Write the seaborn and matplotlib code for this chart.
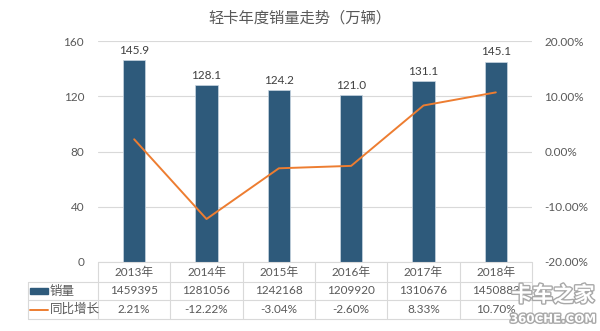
import numpy as np
import pandas as pd
import matplotlib
matplotlib.use("Agg")
import matplotlib.pyplot as plt
import matplotlib.patheffects as pe
from matplotlib.transforms import blended_transform_factory
import seaborn as sns

# Light-truck annual sales (10k units) and year-on-year growth
years = ["2013年", "2014年", "2015年", "2016年", "2017年", "2018年"]
sales_wan = [145.9, 128.1, 124.2, 121.0, 131.1, 145.1]
sales_units = ["1459395", "1281056", "1242168", "1209920", "1310676", "1450883"]
growth_pct = [2.21, -12.22, -3.04, -2.60, 8.33, 10.70]
growth_labels = ["2.21%", "-12.22%", "-3.04%", "-2.60%", "8.33%", "10.70%"]
left_ticks = [0, 40, 80, 120, 160]
right_ticks = [-20, -10, 0, 10, 20]

BAR = "#2E5A7B"
LINE = "#ED7D31"
TXT = "#595959"
GRID = "#D9D9D9"
FONT = ["Lato", "Noto Sans CJK SC", "DejaVu Sans"]

sns.set_theme(style="white")
plt.rcParams["font.family"] = FONT

W, H = 600, 331
fig = plt.figure(figsize=(W / 100, H / 100), dpi=100)
ax = fig.add_axes([98 / W, 1 - 262 / H, (532 - 98) / W, (262 - 41) / H])

df = pd.DataFrame({"year": years, "sales": sales_wan, "growth": growth_pct})
df["pos"] = np.arange(len(df))

sns.barplot(data=df, x="year", y="sales", color=BAR, width=0.31, errorbar=None,
            saturation=1, edgecolor="#C9D6E2", linewidth=0.5, ax=ax, zorder=2)
ax.set_ylim(0, 160)
ax.set_xlim(-0.5, len(years) - 0.5)
ax.set_yticks(left_ticks)
ax.set_yticklabels([str(t) for t in left_ticks])
ax.set_xticks([])
ax.set_xlabel("")
ax.set_ylabel("")
ax.xaxis.grid(False)
ax.yaxis.grid(True, color=GRID, linewidth=0.8, zorder=0)
ax.set_axisbelow(True)
ax.tick_params(axis="x", bottom=False, labelbottom=False)
ax.tick_params(axis="y", length=0, pad=10, labelsize=8.5, labelcolor=TXT)

for i, v in enumerate(sales_wan):
    ax.text(i, v + 3, f"{v:.1f}", ha="center", va="bottom",
            fontsize=8.5, color="#404040")

ax2 = ax.twinx()
sns.lineplot(data=df, x="pos", y="growth", color=LINE, linewidth=1.4,
             ax=ax2, zorder=3)
ax2.set_ylim(-20, 20)
ax2.set_xlim(-0.5, len(years) - 0.5)
ax2.set_yticks(right_ticks)
ax2.set_yticklabels([f"{t:.2f}%" for t in right_ticks])
ax2.set_xlabel("")
ax2.set_ylabel("")
ax2.grid(False)
ax2.tick_params(axis="x", bottom=False, labelbottom=False)
ax2.tick_params(axis="y", length=0, pad=9, labelsize=8.5, labelcolor=TXT)

for a in (ax, ax2):
    for s in a.spines.values():
        s.set_visible(False)
    a.patch.set_visible(False)

# Title
fig.text(0.5, 1 - 18 / H, "轻卡年度销量走势（万辆）", ha="center", va="center",
         fontsize=11, color=TXT, family=["Noto Sans CJK SC"])

# Data table beneath the plot
tr = blended_transform_factory(ax.transData, ax.transAxes)
ph = 262 - 41
def ya(py):
    return (262 - py) / ph

y_top, y_r1, y_r2, y_bot = ya(262), ya(282), ya(300), ya(319)
unit = (532 - 98) / 6
def xd(px):
    return -0.5 + (px - 98) / unit

x_left = xd(28)
n = len(years)
line_kw = dict(color=GRID, linewidth=0.8, transform=tr, clip_on=False)
ax.plot([-0.5, n - 0.5], [y_top, y_top], **line_kw)
for yy in (y_r1, y_r2, y_bot):
    ax.plot([x_left, n - 0.5], [yy, yy], **line_kw)
for k in range(n + 1):
    ax.plot([k - 0.5, k - 0.5], [y_top, y_bot], **line_kw)
ax.plot([x_left, x_left], [y_r1, y_bot], **line_kw)

yc0 = (y_top + y_r1) / 2
yc1 = (y_r1 + y_r2) / 2
yc2 = (y_r2 + y_bot) / 2
for i in range(n):
    ax.text(i, yc0, years[i], transform=tr, ha="center", va="center",
            fontsize=8.5, color=TXT, clip_on=False)
    ax.text(i, yc1, sales_units[i], transform=tr, ha="center", va="center",
            fontsize=8.5, color=TXT, clip_on=False)
    ax.text(i, yc2, growth_labels[i], transform=tr, ha="center", va="center",
            fontsize=8.5, color=TXT, clip_on=False)

# Legend keys inside the table
ax.add_patch(plt.Rectangle((xd(30), yc1 - 0.012), xd(48) - xd(30), 0.026,
                           color=BAR, transform=tr, clip_on=False))
ax.plot([xd(30), xd(48)], [yc2, yc2], color=LINE, linewidth=1.4,
        transform=tr, clip_on=False)
ax.text(xd(50), yc1, "销量", transform=tr, ha="left", va="center",
        fontsize=9, color=TXT, clip_on=False, family=["Noto Sans CJK SC"])
ax.text(xd(50), yc2, "同比增长", transform=tr, ha="left", va="center",
        fontsize=9, color=TXT, clip_on=False, family=["Noto Sans CJK SC"])

# Site mark, bottom right
stroke = [pe.withStroke(linewidth=2.0, foreground="#A8A8A8")]
fig.text(1 - 47 / W, 1 - 295 / H, "卡车之家", ha="center", va="center",
         fontsize=15, fontweight="bold", style="italic", color="white",
         family=["Noto Sans CJK SC"], path_effects=stroke, zorder=10)
fig.text(1 - 47 / W, 1 - 319 / H, "360CHE.COM", ha="center", va="center",
         fontsize=8.5, fontweight="bold", color="white",
         family=["DejaVu Sans"], path_effects=stroke, zorder=10)

fig.savefig("out.png", dpi=100, facecolor="white")
